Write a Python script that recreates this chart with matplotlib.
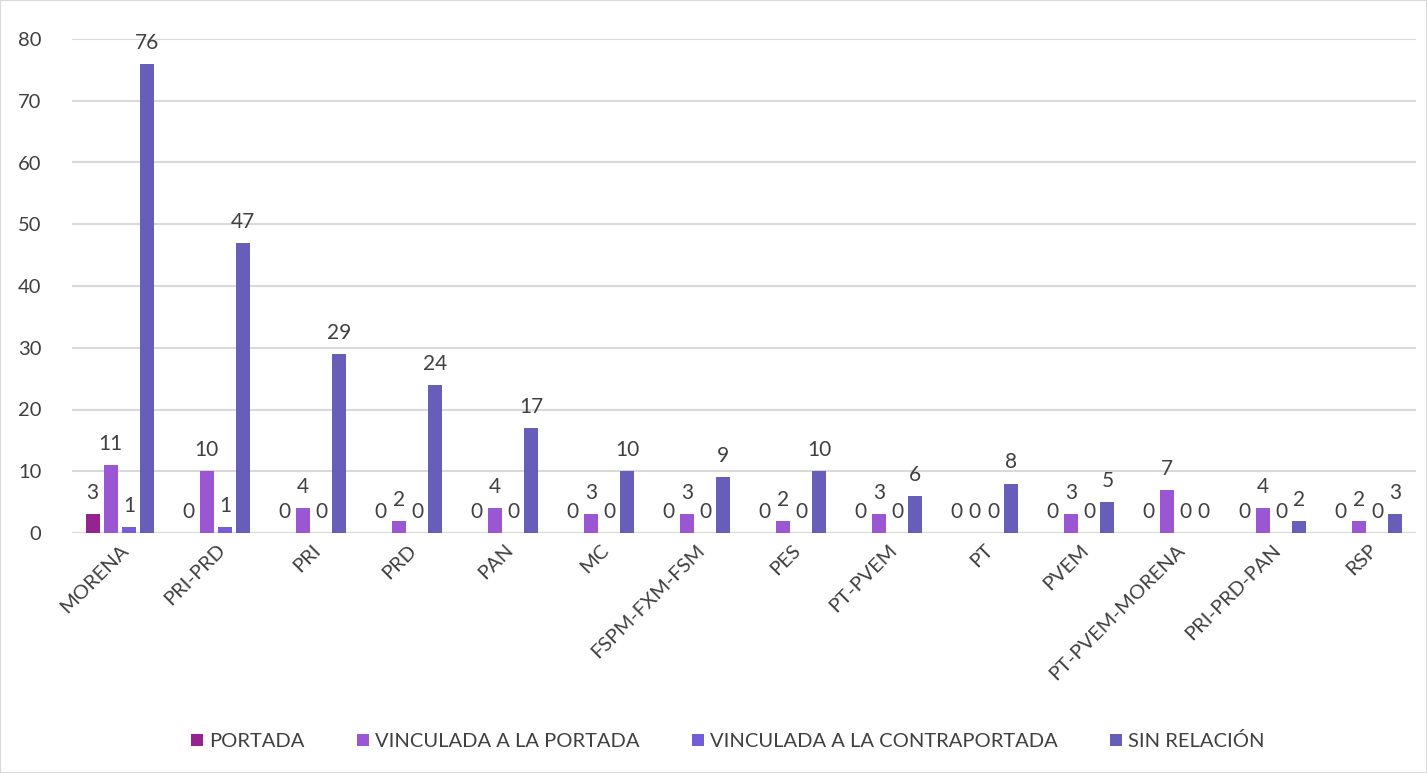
import numpy as np
import matplotlib.pyplot as plt

partidos = ["MORENA", "PRI-PRD", "PRI", "PRD", "PAN", "MC", "FSPM-FXM-FSM",
            "PES", "PT-PVEM", "PT", "PVEM", "PT-PVEM-MORENA", "PRI-PRD-PAN", "RSP"]

portada = [3, 0, 0, 0, 0, 0, 0, 0, 0, 0, 0, 0, 0, 0]
vinculada_portada = [11, 10, 4, 2, 4, 3, 3, 2, 3, 0, 3, 7, 4, 2]
vinculada_contraportada = [1, 1, 0, 0, 0, 0, 0, 0, 0, 0, 0, 0, 0, 0]
sin_relacion = [76, 47, 29, 24, 17, 10, 9, 10, 6, 8, 5, 0, 2, 3]

series = [
    ("PORTADA", portada, "#952490"),
    ("VINCULADA A LA PORTADA", vinculada_portada, "#9B57D3"),
    ("VINCULADA A LA CONTRAPORTADA", vinculada_contraportada, "#755DD9"),
    ("SIN RELACIÓN", sin_relacion, "#665EB8"),
]

plt.rcParams['font.family'] = ['Lato', 'DejaVu Sans']
text_color = "#404040"
fs = 14.5

fig = plt.figure(figsize=(14.27, 7.73), dpi=100)
ax = fig.add_axes([72 / 1427, 240 / 773, (1416 - 72) / 1427, (533 - 39) / 773])

x = np.arange(len(partidos))
slot = 0.19
width = 0.145
for i, (name, vals, color) in enumerate(series):
    bars = ax.bar(x + (i - 1.5) * slot, vals, width, color=color, label=name, zorder=3)
    ax.bar_label(bars, labels=[str(v) for v in vals], padding=8,
                 fontsize=15, color=text_color)

ax.set_xlim(-0.5, len(partidos) - 0.5)
ax.set_ylim(0, 80)
ax.set_yticks(range(0, 81, 10))
ax.yaxis.grid(True, color="#d9d9d9", linewidth=1.5, zorder=0)
for s in ax.spines.values():
    s.set_visible(False)
ax.axhline(0, color="#d9d9d9", linewidth=1.5, zorder=2)
ax.tick_params(axis='both', length=0, labelsize=fs, labelcolor=text_color)
ax.tick_params(axis='y', pad=22)
ax.tick_params(axis='x', pad=6)
ax.set_xticks(x)
ax.set_xticklabels(partidos, rotation=45, ha='right', rotation_mode='anchor')

fig.legend(loc='center', bbox_to_anchor=(0.51, 1 - 741 / 773), ncol=4, frameon=False,
           fontsize=fs, labelcolor=text_color, handlelength=0.6, handleheight=0.6,
           columnspacing=2.6, handletextpad=0.3)

fig.patches.append(plt.Rectangle((0, 0), 1, 1, transform=fig.transFigure,
                                 fill=False, edgecolor="#d9d9d9", linewidth=1.5))

fig.savefig("out.png", dpi=100)
